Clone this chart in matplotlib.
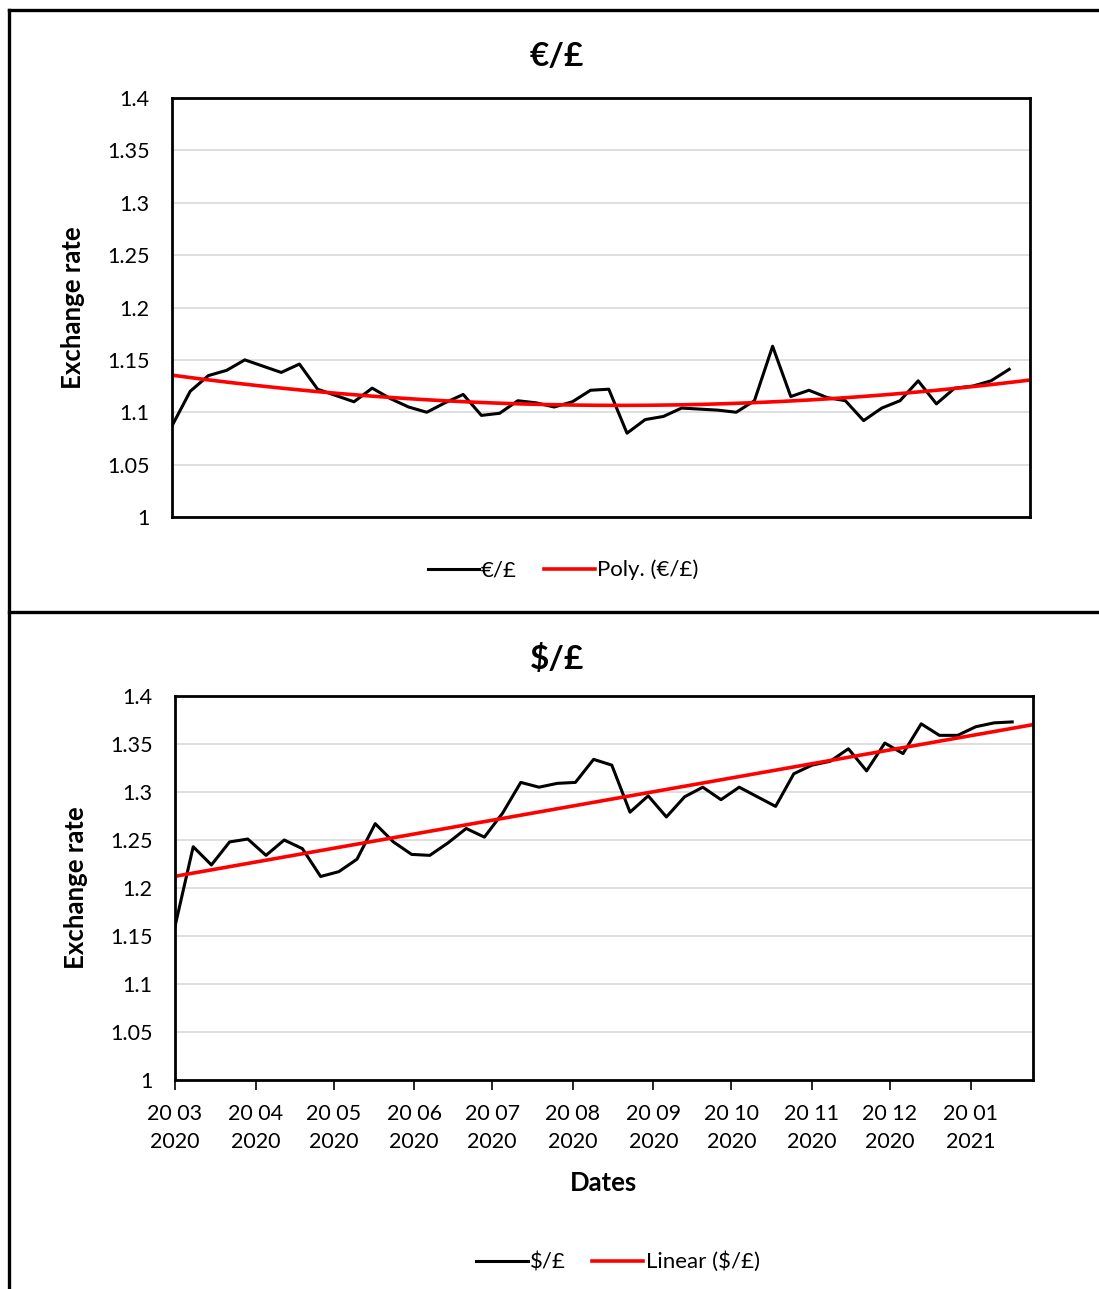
import numpy as np
import pandas as pd
import matplotlib
matplotlib.use("Agg")
import matplotlib.pyplot as plt
import matplotlib.dates as mdates
from matplotlib.lines import Line2D

plt.rcParams['font.family'] = ['Lato', 'DejaVu Sans']

# weekly observations starting 20 Mar 2020
dates = pd.date_range("2020-03-20", periods=47, freq="7D")

eur_gbp = [1.087, 1.120, 1.135, 1.140, 1.150, 1.144, 1.138, 1.146, 1.122, 1.116,
           1.110, 1.123, 1.113, 1.105, 1.100, 1.109, 1.117, 1.097, 1.099, 1.111,
           1.109, 1.105, 1.110, 1.121, 1.122,
           1.080, 1.093, 1.096, 1.104, 1.103, 1.102, 1.100, 1.111, 1.163, 1.115,
           1.121, 1.114, 1.111, 1.092, 1.104, 1.111, 1.130, 1.108, 1.123, 1.125,
           1.130, 1.141]

usd_gbp = [1.160, 1.243, 1.224, 1.248, 1.251, 1.234, 1.250, 1.241, 1.212, 1.217,
           1.230, 1.267, 1.248, 1.235, 1.234, 1.247, 1.262, 1.253, 1.278, 1.310,
           1.305, 1.309, 1.310, 1.334, 1.328,
           1.279, 1.296, 1.274, 1.295, 1.305, 1.292, 1.305, 1.295, 1.285, 1.319,
           1.328, 1.332, 1.345, 1.322, 1.351, 1.340, 1.371, 1.359, 1.359, 1.368,
           1.372, 1.373]

yticks = [1, 1.05, 1.1, 1.15, 1.2, 1.25, 1.3, 1.35, 1.4]
ytick_labels = ["1", "1.05", "1.1", "1.15", "1.2", "1.25", "1.3", "1.35", "1.4"]

W, H = 1099, 1289
fig = plt.figure(figsize=(W / 100, H / 100), dpi=100)

x0 = dates[0]
x1 = dates[0] + pd.Timedelta(days=330)
xnum = mdates.date2num(dates)
xfit = np.linspace(mdates.date2num(x0), mdates.date2num(x1), 300)


def fig_box(left, top, right, bottom):
    return [left / W, 1 - bottom / H, (right - left) / W, (bottom - top) / H]


def style_axes(ax):
    ax.set_ylim(1, 1.4)
    ax.set_yticks(yticks)
    ax.set_yticklabels(ytick_labels)
    ax.set_xlim(x0, x1)
    ax.grid(axis="y", color="#d9d9d9", lw=1.2)
    ax.set_axisbelow(True)
    for s in ax.spines.values():
        s.set_linewidth(2.0)
        s.set_color("black")
    ax.tick_params(axis="y", length=0, pad=16, labelsize=15.5)
    ax.set_ylabel("Exchange rate", fontsize=18.5, fontweight="bold", labelpad=16)


# top chart: EUR/GBP with 2nd order polynomial trend
ax1 = fig.add_axes(fig_box(172, 98, 1030, 517))
style_axes(ax1)
ax1.plot(dates, eur_gbp, color="black", lw=2.2, label="€/£")
p2 = np.polyfit(xnum - xnum[0], eur_gbp, 2)
ax1.plot(mdates.num2date(xfit), np.polyval(p2, xfit - xnum[0]), color="red", lw=2.6,
         label="Poly. (€/£)")
ax1.tick_params(axis="x", length=0, labelbottom=False)
fig.text(557 / W, 1 - 56 / H, "€/£", ha="center", va="center", fontsize=24, fontweight="bold")

# bottom chart: USD/GBP with linear trend
ax2 = fig.add_axes(fig_box(175, 696, 1033, 1080))
style_axes(ax2)
ax2.plot(dates, usd_gbp, color="black", lw=2.2, label="$/£")
p1 = np.polyfit(xnum - xnum[0], usd_gbp, 1)
ax2.plot(mdates.num2date(xfit), np.polyval(p1, xfit - xnum[0]), color="red", lw=2.6,
         label="Linear ($/£)")
ax2.xaxis.set_major_locator(mdates.MonthLocator(bymonthday=20))
ax2.xaxis.set_major_formatter(mdates.DateFormatter("%d %m\n%Y"))
ax2.tick_params(axis="x", length=7, width=1.2, direction="out", pad=10, labelsize=15.5)
for t in ax2.get_xticklabels():
    t.set_linespacing(1.5)
ax2.set_xlabel("Dates", fontsize=18.5, fontweight="bold", labelpad=14)
fig.text(557 / W, 1 - 659 / H, "$/£", ha="center", va="center", fontsize=24, fontweight="bold")

# legends
leg_kw = dict(loc="center", ncol=2, frameon=False, fontsize=16, handlelength=2.3,
              handletextpad=0.1, columnspacing=1.2)
fig.legend(*ax1.get_legend_handles_labels(), bbox_to_anchor=(563 / W, 1 - 570 / H), **leg_kw)
fig.legend(*ax2.get_legend_handles_labels(), bbox_to_anchor=(618 / W, 1 - 1262 / H), **leg_kw)

# chart area borders
for xs, ys in [([9, W], [10, 10]), ([9, 9], [10, H]), ([9, W], [612, 612])]:
    fig.add_artist(Line2D([x / W for x in xs], [1 - y / H for y in ys],
                          color="black", lw=2.4, transform=fig.transFigure))

fig.savefig("out.png", dpi=100)
